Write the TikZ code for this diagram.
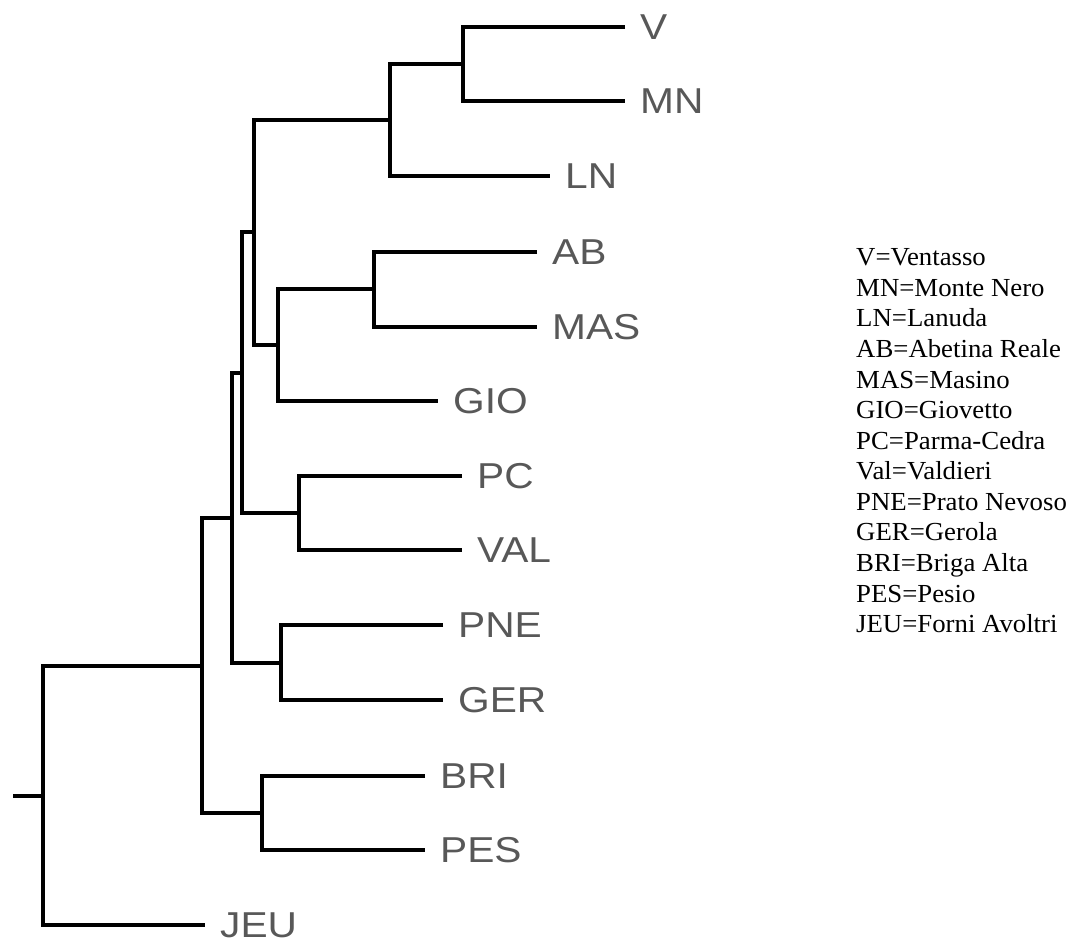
\documentclass[tikz,border=0pt]{standalone}
\usepackage{fontspec}
\setmainfont[FakeStretch=1.03]{Liberation Serif}
\newfontfamily\labfont[FakeStretch=1.13]{Liberation Sans}
\definecolor{labgray}{RGB}{88,88,88}
\begin{document}
\begin{tikzpicture}[x=1pt,y=-1pt,
  branch/.style={line width=3.6pt, line join=miter, draw=black},
  leaf/.style={anchor=west, inner sep=0pt, xshift=15pt, text depth=0pt,
    font=\labfont\fontsize{36}{36}\selectfont, text=labgray},
  legend/.style={anchor=base west, inner sep=0pt,
    font=\fontsize{26}{26}\selectfont, text=black}]
\useasboundingbox (0,0) rectangle (1071,945);
% leaf line ends
\coordinate (eV)   at (625,27);
\coordinate (eMN)  at (625,101);
\coordinate (eLN)  at (550,176);
\coordinate (eAB)  at (537,252);
\coordinate (eMAS) at (537,327);
\coordinate (eGIO) at (438,401);
\coordinate (ePC)  at (462,476);
\coordinate (eVAL) at (462,550);
\coordinate (ePNE) at (443,625);
\coordinate (eGER) at (443,700);
\coordinate (eBRI) at (425,776);
\coordinate (ePES) at (425,850);
\coordinate (eJEU) at (205,925);
% internal nodes
\coordinate (n1)  at (463,64);
\coordinate (n2)  at (390,120);
\coordinate (n3)  at (374,289);
\coordinate (n4)  at (278,345);
\coordinate (n5)  at (254,232);
\coordinate (n6)  at (299,513);
\coordinate (n7)  at (242,373);
\coordinate (n8)  at (281,663);
\coordinate (n9)  at (232,518);
\coordinate (n10) at (262,813);
\coordinate (n11) at (202,666);
\coordinate (root) at (43,796);
\coordinate (stub) at (13,796);
% labels
\node[leaf] (V)   at (eV)   {V};
\node[leaf] (MN)  at (eMN)  {MN};
\node[leaf] (LN)  at (eLN)  {LN};
\node[leaf] (AB)  at (eAB)  {AB};
\node[leaf] (MAS) at (eMAS) {MAS};
\node[leaf] (GIO) at (eGIO) {GIO};
\node[leaf] (PC)  at (ePC)  {PC};
\node[leaf] (VAL) at (eVAL) {VAL};
\node[leaf] (PNE) at (ePNE) {PNE};
\node[leaf] (GER) at (eGER) {GER};
\node[leaf] (BRI) at (eBRI) {BRI};
\node[leaf] (PES) at (ePES) {PES};
\node[leaf] (JEU) at (eJEU) {JEU};
% branches
\draw[branch] (eV) -| (n1) |- (eMN);
\draw[branch] (n1) -| (n2) |- (eLN);
\draw[branch] (eAB) -| (n3) |- (eMAS);
\draw[branch] (n3) -| (n4) |- (eGIO);
\draw[branch] (n2) -| (n5) |- (n4);
\draw[branch] (ePC) -| (n6) |- (eVAL);
\draw[branch] (n5) -| (n7) |- (n6);
\draw[branch] (ePNE) -| (n8) |- (eGER);
\draw[branch] (n7) -| (n9) |- (n8);
\draw[branch] (eBRI) -| (n10) |- (ePES);
\draw[branch] (n9) -| (n11) |- (n10);
\draw[branch] (n11) -| (root) |- (eJEU);
\draw[branch] (stub) -- (root);
% legend
\node[legend] (L1)  at (856,265.7) {V=Ventasso};
\node[legend] (L2)  at (856,296.3) {MN=Monte Nero};
\node[legend] (L3)  at (856,326.9) {LN=Lanuda};
\node[legend] (L4)  at (856,357.4) {AB=Abetina Reale};
\node[legend] (L5)  at (856,388.0) {MAS=Masino};
\node[legend] (L6)  at (856,418.6) {GIO=Giovetto};
\node[legend] (L7)  at (856,449.2) {PC=Parma-Cedra};
\node[legend] (L8)  at (856,479.8) {Val=Valdieri};
\node[legend] (L9)  at (856,510.3) {PNE=Prato Nevoso};
\node[legend] (L10) at (856,540.9) {GER=Gerola};
\node[legend] (L11) at (856,571.5) {BRI=Briga Alta};
\node[legend] (L12) at (856,602.1) {PES=Pesio};
\node[legend] (L13) at (856,632.7) {JEU=Forni Avoltri};
\end{tikzpicture}
\end{document}
